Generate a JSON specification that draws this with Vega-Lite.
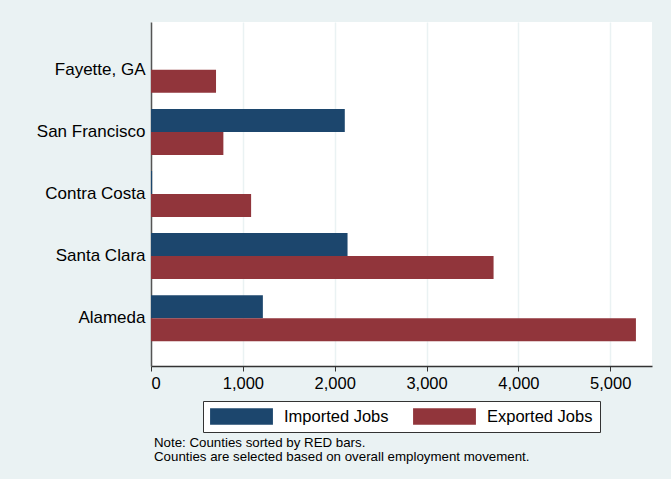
{
  "$schema": "https://vega.github.io/schema/vega-lite/v6.json",
  "width": 501,
  "height": 344,
  "autosize": {"type": "none"},
  "padding": {"left": 151, "top": 22, "right": 19, "bottom": 113},
  "background": "#EAF2F3",
  "data": {
    "values": [
      {"county": "Fayette, GA", "series": "Imported Jobs", "value": 0},
      {"county": "Fayette, GA", "series": "Exported Jobs", "value": 708},
      {"county": "San Francisco", "series": "Imported Jobs", "value": 2110},
      {"county": "San Francisco", "series": "Exported Jobs", "value": 788},
      {"county": "Contra Costa", "series": "Imported Jobs", "value": 12},
      {"county": "Contra Costa", "series": "Exported Jobs", "value": 1090},
      {"county": "Santa Clara", "series": "Imported Jobs", "value": 2140},
      {"county": "Santa Clara", "series": "Exported Jobs", "value": 3730},
      {"county": "Alameda", "series": "Imported Jobs", "value": 1218},
      {"county": "Alameda", "series": "Exported Jobs", "value": 5280}
    ]
  },
  "title": {
    "text": ["Note: Counties sorted by RED bars.", "Counties are selected based on overall employment movement."],
    "orient": "bottom",
    "anchor": "start",
    "frame": "group",
    "font": "Liberation Sans",
    "fontSize": 13.3,
    "fontWeight": "normal",
    "color": "#000000",
    "lineHeight": 14.5,
    "offset": 3,
    "dx": 3
  },
  "mark": {"type": "bar"},
  "encoding": {
    "y": {
      "field": "county",
      "type": "nominal",
      "sort": ["Fayette, GA", "San Francisco", "Contra Costa", "Santa Clara", "Alameda"],
      "scale": {"paddingInner": 0.26, "paddingOuter": 0.4},
      "axis": {
        "title": null,
        "ticks": false,
        "labelPadding": 6,
        "labelFont": "Liberation Sans",
        "labelFontSize": 17,
        "labelColor": "#000000",
        "domainColor": "#555555",
        "domainWidth": 1.5
      }
    },
    "yOffset": {
      "field": "series",
      "type": "nominal",
      "sort": ["Imported Jobs", "Exported Jobs"],
      "scale": {"paddingInner": 0, "paddingOuter": 0}
    },
    "x": {
      "field": "value",
      "type": "quantitative",
      "scale": {"domain": [0, 5455], "nice": false},
      "axis": {
        "title": null,
        "values": [0, 1000, 2000, 3000, 4000, 5000],
        "format": ",d",
        "labelFont": "Liberation Sans",
        "labelFontSize": 16.5,
        "labelColor": "#000000",
        "labelPadding": 4,
        "tickSize": 5,
        "tickColor": "#333333",
        "domainColor": "#333333",
        "domainWidth": 1.5,
        "grid": true,
        "gridColor": "#EAF2F3",
        "gridWidth": 1.5
      }
    },
    "color": {
      "field": "series",
      "type": "nominal",
      "sort": ["Imported Jobs", "Exported Jobs"],
      "scale": {"domain": ["Imported Jobs", "Exported Jobs"], "range": ["#1C466D", "#91353B"]},
      "legend": {
        "title": null,
        "orient": "bottom",
        "direction": "horizontal",
        "symbolType": "M-1,-0.26L1,-0.26L1,0.26L-1,0.26Z",
        "symbolSize": 3950,
        "symbolStrokeWidth": 0,
        "symbolOpacity": 1,
        "clipHeight": 17,
        "labelFont": "Liberation Sans",
        "labelFontSize": 16.5,
        "labelColor": "#000000",
        "labelOffset": 11,
        "columnPadding": 24,
        "padding": 7,
        "offset": 9,
        "fillColor": "#FFFFFF",
        "strokeColor": "#333333"
      }
    }
  },
  "config": {
    "view": {"fill": "#FFFFFF", "stroke": null},
    "legend": {"layout": {"bottom": {"anchor": "middle"}}}
  }
}
